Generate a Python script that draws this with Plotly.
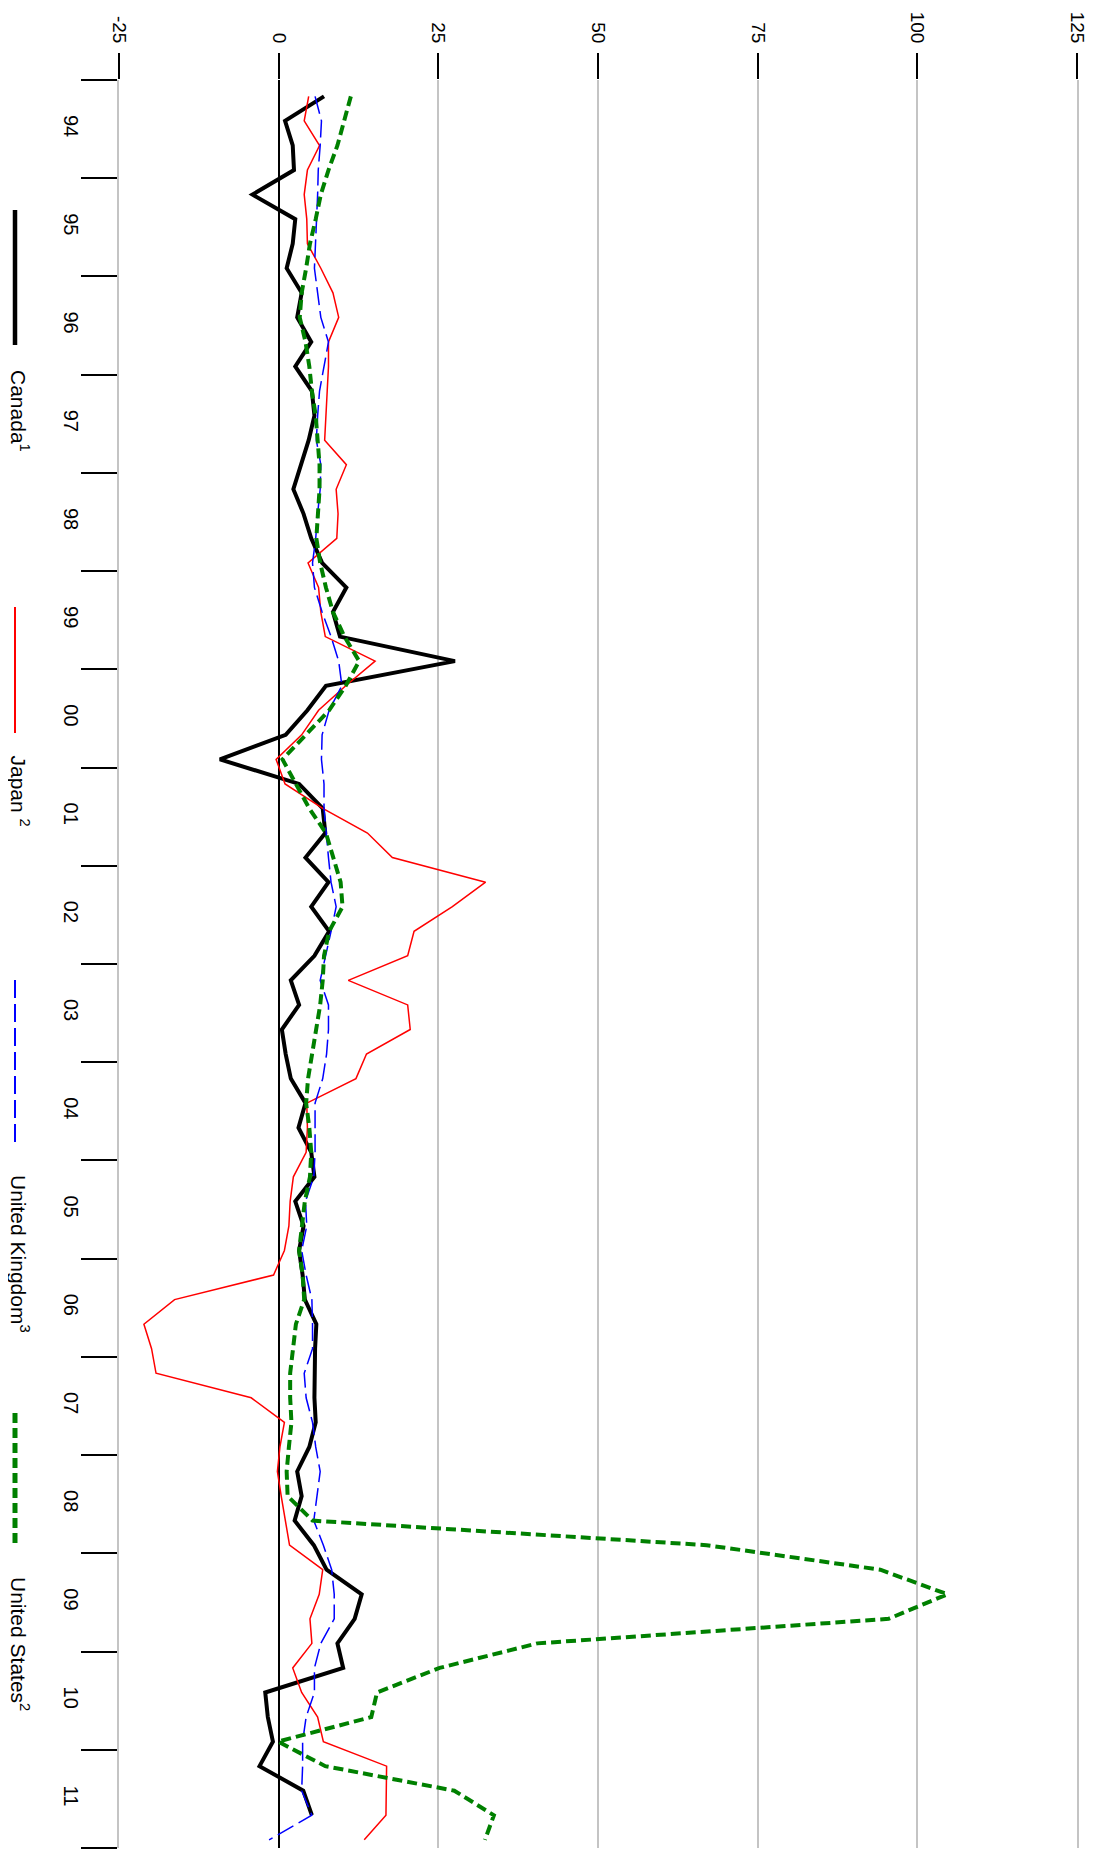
import plotly.graph_objects as go

# ---------------- data (quarterly, 1994Q1 ..) ----------------
start_year = 1994
canada = [7.1, 1.0, 2.2, 2.4, -4.1, 2.6, 2.2, 1.25, 3.6, 2.9, 5.1, 2.6,
          5.2, 5.6, 4.7, 3.5, 2.3, 3.9, 5.1, 6.8, 10.6, 8.5, 9.6, 27.6,
          7.4, 4.5, 1.1, -9.2, 3.2, 6.9, 7.3, 4.2, 7.8, 5.1, 7.9, 5.6,
          1.9, 3.2, 0.5, 1.1, 1.9, 4.2, 3.1, 5.1, 5.6, 2.6, 3.9, 3.2,
          3.75, 4.1, 5.9, 5.7, 5.6, 5.6, 5.8, 4.8, 2.9, 3.6, 2.5, 5.5,
          7.5, 13.0, 11.9, 9.2, 10.1, -2.1, -1.7, -0.9, -3.0, 3.85, 5.2]
japan = [4.7, 4.0, 6.4, 4.5, 4.0, 4.4, 4.5, 6.6, 8.5, 9.4, 7.8, 7.8,
         7.6, 7.4, 7.2, 10.6, 9.0, 9.3, 9.1, 4.6, 6.25, 6.6, 7.3, 15.1,
         10.5, 6.25, 3.6, -0.4, 1.0, 6.9, 13.9, 17.8, 32.4, 27.2, 21.2, 20.2,
         10.9, 20.2, 20.6, 13.75, 12.1, 4.4, 4.5, 4.3, 2.3, 1.8, 1.6, 0.9,
         -0.8, -16.3, -21.1, -19.9, -19.2, -4.3, 0.9, 0.2, -0.2, 0.4, 1.1, 1.7,
         6.9, 6.35, 4.9, 5.2, 2.2, 3.6, 6.1, 7.0, 16.9, 16.85, 16.8, 13.4]
uk = [5.7, 6.7, 6.5, 6.2, 6.1, 5.9, 5.7, 5.6, 6.1, 6.6, 7.8, 7.1,
      6.4, 6.1, 5.9, 6.6, 6.5, 6.1, 5.8, 5.3, 5.6, 6.8, 8.2, 9.4,
      9.9, 7.9, 6.8, 6.7, 7.1, 7.1, 7.4, 7.8, 8.2, 9.0, 8.2, 7.4,
      6.5, 7.8, 7.8, 7.5, 6.9, 5.7, 5.7, 5.7, 5.5, 4.2, 4.4, 3.6,
      4.3, 5.2, 5.3, 5.3, 4.0, 4.3, 5.3, 5.8, 6.5, 6.0, 5.5, 7.0,
      8.3, 8.7, 8.7, 6.6, 5.6, 5.6, 4.3, 3.75, 3.75, 3.6, 5.2, -1.5]
us = [11.3, 10.3, 9.2, 7.8, 6.6, 5.8, 4.9, 4.3, 3.6, 3.3, 4.2, 4.8,
      5.2, 5.8, 6.1, 6.4, 6.4, 6.1, 5.9, 6.5, 7.4, 8.5, 10.3, 12.6,
      10.5, 7.9, 4.3, 0.6, 2.7, 4.8, 7.4, 8.5, 9.7, 10.0, 7.9, 7.1,
      6.9, 6.5, 5.9, 5.3, 4.6, 4.3, 4.8, 5.1, 4.9, 4.1, 3.6, 3.2,
      3.75, 4.0, 2.7, 2.2, 1.8, 1.8, 2.0, 1.6, 1.25, 1.4, 5.3, 67.0,
      94.2, 104.7, 95.5, 40.5, 25.2, 15.4, 14.5, -0.1, 7.3, 27.5, 33.7, 32.3]

year_ticks = list(range(1994, 2013))
year_labels = ["94", "95", "96", "97", "98", "99", "00", "01", "02", "03",
               "04", "05", "06", "07", "08", "09", "10", "11"]
value_ticks = [-25, 0, 25, 50, 75, 100, 125]

series_names = ["Canada<sup>1</sup>", "Japan <sup>2</sup>",
                "United Kingdom<sup>3</sup>", "United States<sup>2</sup>"]


def quarter_pos(n):
    # observations dated at month 2, 5, 8, 11 of each year
    return [start_year + (i // 4) + (3 * (i % 4) + 2) / 12 for i in range(n)]


FONT = "Liberation Sans, Arial, Helvetica, sans-serif"
UK_DASH = "18px,6px"
US_DASH = "10px,5px"

fig = go.Figure()
styles = [
    (canada, "black", 4, "solid"),
    (japan, "#ff0000", 1.5, "solid"),
    (uk, "#0000ff", 1.5, UK_DASH),
    (us, "#008000", 4, US_DASH),
]
for (vals, col, w, dash), name in zip(styles, series_names):
    fig.add_trace(go.Scatter(
        x=vals, y=quarter_pos(len(vals)), mode="lines", name=name,
        line=dict(color=col, width=w, dash=dash), showlegend=False))

# page layout (the page body adds an 8px offset)
OFF = 8
PAGE_W, PAGE_H = 1095, 1860
L, R, T, B = 119, 1077, 80, 1848        # plot area, page pixels
W, H = PAGE_W - OFF, PAGE_H - OFF


def px(xp):
    return (xp - L) / (R - L)


def py(yp):
    return (B - yp) / (B - T)


# legend (rotated) drawn as shapes + annotations
legend_items = [
    (210, 345, 368, "black", 4.5, "solid"),
    (607, 733, 753, "#ff0000", 2, "solid"),
    (980, 1147, 1173, "#0000ff", 2, UK_DASH),
    (1413, 1545, 1575, "#008000", 5, US_DASH),
]
shapes = []
annotations = []
for (y0, y1, ty, col, w, dash), name in zip(legend_items, series_names):
    shapes.append(dict(type="line", xref="paper", yref="paper",
                       x0=px(15), x1=px(15), y0=py(y0), y1=py(y1),
                       line=dict(color=col, width=w, dash=dash)))
    annotations.append(dict(xref="paper", yref="paper", x=px(20), y=py(ty),
                            text=name, showarrow=False, textangle=90,
                            xanchor="center", yanchor="top",
                            font=dict(family=FONT, size=21, color="black")))

fig.update_layout(
    width=W, height=H,
    margin=dict(l=L - OFF, r=PAGE_W - R, t=T - OFF, b=PAGE_H - B,
                pad=0, autoexpand=False),
    paper_bgcolor="white", plot_bgcolor="white",
    font=dict(family=FONT, size=20, color="black"),
    shapes=shapes, annotations=annotations,
    xaxis=dict(
        side="top", range=[-25, 125], tickvals=value_ticks,
        ticktext=[str(v) for v in value_ticks], tickangle=90,
        ticks="outside", ticklen=26, tickwidth=2, tickcolor="black",
        ticklabelstandoff=3, automargin=False,
        showgrid=True, gridcolor="#c4c4c4", gridwidth=2,
        zeroline=True, zerolinecolor="black", zerolinewidth=2,
        showline=False, tickfont=dict(family=FONT, size=19),
    ),
    yaxis=dict(
        range=[2012, 1994], tickvals=[y + 0.5 for y in year_ticks[:-1]],
        ticktext=year_labels, tickangle=90, automargin=False,
        ticks="outside", ticklen=29, tickcolor="rgba(0,0,0,0)",
        showgrid=False, zeroline=False,
        showline=True, mirror=True, linecolor="#c4c4c4", linewidth=2,
        minor=dict(tickvals=year_ticks, ticks="outside", ticklen=36,
                   tickwidth=2, tickcolor="black", showgrid=False),
        tickfont=dict(family=FONT, size=20),
    ),
)

fig.write_html("out.html")
